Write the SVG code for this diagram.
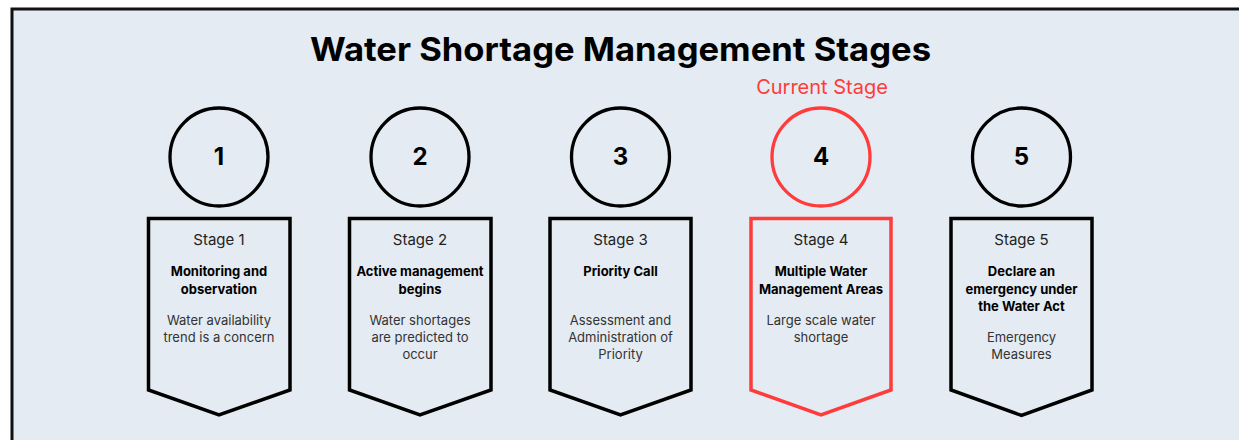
<svg xmlns="http://www.w3.org/2000/svg" width="1239" height="440" viewBox="0 0 1239 440">
<style>
.frame{fill:#e4ebf2;stroke:#111;stroke-width:3}
.circ{fill:none;stroke:#000;stroke-width:3.3}
.box{fill:none;stroke:#000;stroke-width:3.5;stroke-linejoin:miter}
.red{stroke:#ff3b3b}
text{font-family:Inter,"Noto Sans","Liberation Sans",sans-serif;text-anchor:middle}
.title{font-size:33px;font-weight:700;fill:#000}
.num{font-size:24px;font-weight:700;fill:#000}
.stage{font-size:15px;fill:#222}
.head{font-size:13px;font-weight:700;fill:#000}
.desc{font-size:13px;fill:#333}
.cur{font-size:20px;fill:#ff3b3b}
</style>
<rect x="0" y="0" width="1239" height="440" fill="#fff"/>
<rect class="frame" x="12" y="9" width="1240" height="445"/>
<text class="title" x="620.5" y="61" textLength="621" lengthAdjust="spacingAndGlyphs">Water Shortage Management Stages</text>
<text class="cur" x="822" y="94">Current Stage</text>
<g id="stage1">
<circle class="circ" cx="219" cy="157" r="49"/>
<text class="num" x="219" y="165">1</text>
<path class="box" d="M148.5,218.5 H290 V390 L219,415 L148.5,390 Z"/>
<text class="stage" x="219" y="245">Stage 1</text>
<text class="head" x="219" y="276">Monitoring and</text>
<text class="head" x="219" y="294">observation</text>
<text class="desc" x="219" y="325">Water availability</text>
<text class="desc" x="219" y="342">trend is a concern</text>
</g>
<g id="stage2">
<circle class="circ" cx="420" cy="157" r="49"/>
<text class="num" x="420" y="165">2</text>
<path class="box" d="M349.5,218.5 H491 V390 L420,415 L349.5,390 Z"/>
<text class="stage" x="420" y="245">Stage 2</text>
<text class="head" x="420" y="276">Active management</text>
<text class="head" x="420" y="294">begins</text>
<text class="desc" x="420" y="325">Water shortages</text>
<text class="desc" x="420" y="342">are predicted to</text>
<text class="desc" x="420" y="359">occur</text>
</g>
<g id="stage3">
<circle class="circ" cx="620.5" cy="157" r="49"/>
<text class="num" x="620.5" y="165">3</text>
<path class="box" d="M550,218.5 H691 V390 L620.5,415 L550,390 Z"/>
<text class="stage" x="620.5" y="245">Stage 3</text>
<text class="head" x="620.5" y="276">Priority Call</text>
<text class="desc" x="620.5" y="325">Assessment and</text>
<text class="desc" x="620.5" y="342">Administration of</text>
<text class="desc" x="620.5" y="359">Priority</text>
</g>
<g id="stage4">
<circle class="circ red" cx="821" cy="157" r="49"/>
<text class="num" x="821" y="165">4</text>
<path class="box red" d="M751,218.5 H891 V390 L821,415 L751,390 Z"/>
<text class="stage" x="821" y="245">Stage 4</text>
<text class="head" x="821" y="276">Multiple Water</text>
<text class="head" x="821" y="294">Management Areas</text>
<text class="desc" x="821" y="325">Large scale water</text>
<text class="desc" x="821" y="342">shortage</text>
</g>
<g id="stage5">
<circle class="circ" cx="1021.5" cy="157" r="49"/>
<text class="num" x="1021.5" y="165">5</text>
<path class="box" d="M951,218.5 H1092 V390 L1021.5,415.5 L951,390 Z"/>
<text class="stage" x="1021.5" y="245">Stage 5</text>
<text class="head" x="1021.5" y="276">Declare an</text>
<text class="head" x="1021.5" y="294">emergency under</text>
<text class="head" x="1021.5" y="311">the Water Act</text>
<text class="desc" x="1021.5" y="342">Emergency</text>
<text class="desc" x="1021.5" y="359">Measures</text>
</g>
<g id="connectors"></g>
</svg>
